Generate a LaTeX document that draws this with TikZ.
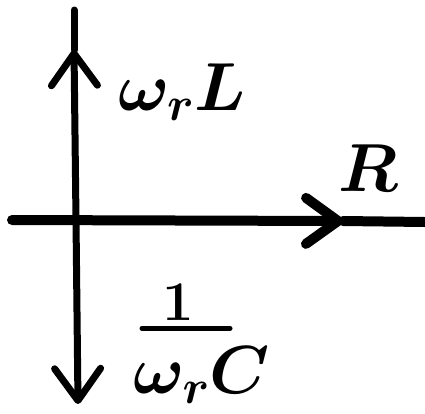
\RequirePackage{fix-cm}
\documentclass[tikz,border=0pt]{standalone}
\usetikzlibrary{arrows.meta}
\tikzset{
  axisline/.style={line width=7pt, line cap=round},
  barb/.style={-{Straight Barb[length=32pt,width=46pt,round]}},
  lbl/.style={font=\fontsize{68}{74}\selectfont\boldmath, inner sep=0pt},
  small lbl/.style={font=\fontsize{56}{60}\selectfont\boldmath, inner sep=0pt}
}
\begin{document}
\begin{tikzpicture}[x=1pt,y=-1pt]
  \useasboundingbox (0,0) rectangle (425,413);
  % axis points
  \coordinate (O) at (76,220);
  \coordinate (top) at (74,10);
  \coordinate (up) at (74,50);
  \coordinate (bot) at (78,404);
  \coordinate (left) at (12,220);
  \coordinate (Rtip) at (343,221);
  \coordinate (right) at (425,222);
  % vertical axis
  \draw[axisline] (top) -- (up);
  \draw[axisline, barb] (O) -- (up);
  \draw[axisline, barb] (O) -- (bot);
  % horizontal axis
  \draw[axisline, line width=10pt, barb] (left) -- (Rtip);
  \draw[axisline, line width=10pt] (Rtip) -- (right);
  % labels
  \node[lbl] (wL) at (182,92) {$\omega_r L$};
  \node[lbl] (R) at (368,168) {$R$};
  \node[small lbl] (one) at (178,302) {$1$};
  \node[lbl] (wC) at (202,375) {$\omega_r C$};
  % fraction bar
  \draw[line width=5pt, line cap=round] (one.south) ++(-36,8) -- ++(88,0);
\end{tikzpicture}
\end{document}
